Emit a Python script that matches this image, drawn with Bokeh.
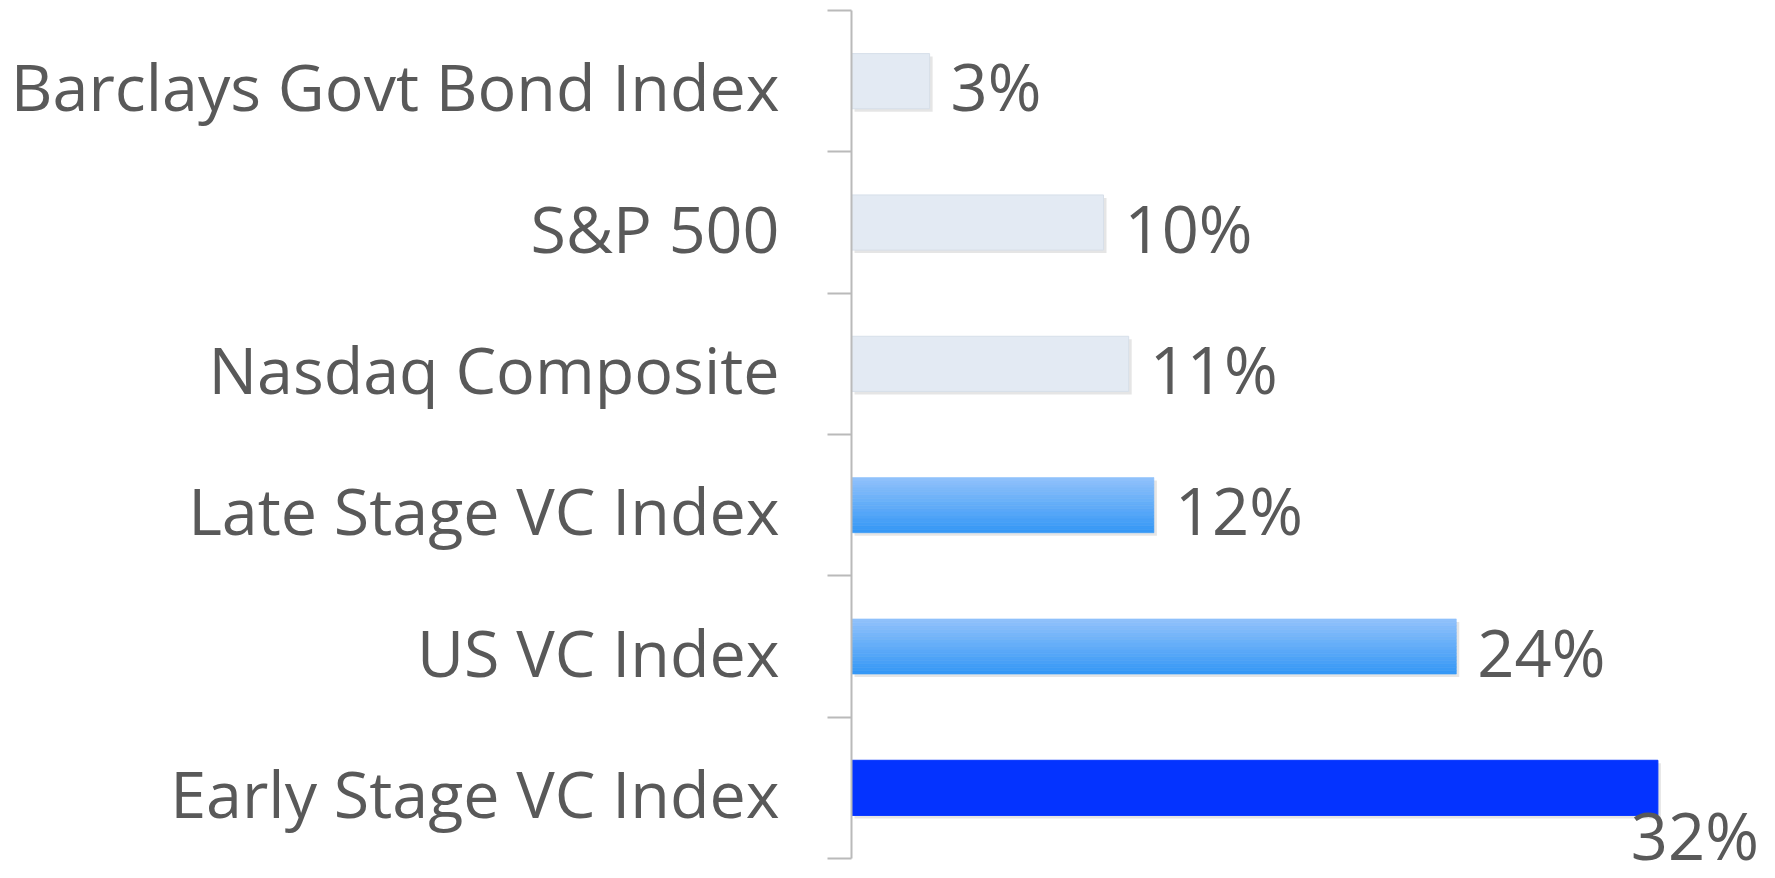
from bokeh.plotting import figure
from bokeh.models import Range1d, LinearAxis, FixedTicker, ColumnDataSource, Grid
from bokeh.embed import file_html
from bokeh.resources import INLINE
from bokeh.core.properties import value

# ---------------- data ----------------
categories = ["Barclays Govt Bond Index", "S&P 500", "Nasdaq Composite",
              "Late Stage VC Index", "US VC Index", "Early Stage VC Index"]
returns = [3.1, 10.0, 11.0, 12.0, 24.0, 32.0]
value_labels = ["3%", "10%", "11%", "12%", "24%", "32%"]
bar_styles = ["light", "light", "light", "gradient", "gradient", "solid"]

# ---------------- layout / style ----------------
W, H = 1775, 878
FRAME_LEFT = 851
BORDER_TOP = 10
AXIS_BOTTOM_GAP = 20          # px between last category boundary and canvas bottom
FRAME_W = W - FRAME_LEFT
FRAME_H = H - BORDER_TOP
N = len(categories)
PX_Y = (FRAME_H - AXIS_BOTTOM_GAP) / N
Y_PAD = AXIS_BOTTOM_GAP / PX_Y
PX_PER_PCT = 25.2
X_END = FRAME_W / PX_PER_PCT
PX_X = PX_PER_PCT
BAR_H = 0.39

FONT = "Open Sans"
TEXT_COLOR = "#595959"
AXIS_COLOR = "#bababa"
LIGHT = "#e3eaf3"
GRAD_TOP = (0x92, 0xc2, 0xfb)
GRAD_BOT = (0x33, 0x97, 0xf6)
SOLID = "#0433ff"

centers = [N - i - 0.5 for i in range(N)]

p = figure(width=W, height=H, output_backend="svg", toolbar_location=None,
           x_range=Range1d(0, X_END), y_range=Range1d(-Y_PAD, N),
           x_axis_location=None, y_axis_location=None,
           min_border_left=FRAME_LEFT, min_border_right=0,
           min_border_top=BORDER_TOP, min_border_bottom=0)
p.outline_line_color = None
p.background_fill_color = "white"
p.border_fill_color = "white"
for r in list(p.center):
    if isinstance(r, Grid):
        r.visible = False

# shifted ranges for drop shadow and label placement
dx = 3 / PX_X
dy = 3 / PX_Y
p.extra_x_ranges["shadow"] = Range1d(-dx, X_END - dx)
p.extra_y_ranges["shadow"] = Range1d(-Y_PAD + dy, N + dy)
lab_shift = 5 / PX_Y
p.extra_y_ranges["labels"] = Range1d(-Y_PAD + lab_shift, N + lab_shift)

# shadows
p.hbar(y=centers, right=returns, left=0, height=BAR_H,
       x_range_name="shadow", y_range_name="shadow",
       fill_color="#000000", fill_alpha=0.10, line_color=None)

# bars
for i, (c, v, st) in enumerate(zip(centers, returns, bar_styles)):
    if st == "light":
        p.hbar(y=[c], right=[v], left=0, height=BAR_H,
               fill_color=LIGHT, line_color="#d7dfe9", line_width=1)
    elif st == "solid":
        p.hbar(y=[c], right=[v], left=0, height=BAR_H,
               fill_color=SOLID, line_color=SOLID, line_width=1)
    else:
        steps = 16
        ys, hs, cols = [], [], []
        for j in range(steps):
            t = (j + 0.5) / steps
            col = "#%02x%02x%02x" % tuple(int(round(a + (b - a) * t)) for a, b in zip(GRAD_TOP, GRAD_BOT))
            ys.append(c + BAR_H / 2 - (j + 0.5) * BAR_H / steps)
            hs.append(BAR_H / steps)
            cols.append(col)
        p.hbar(y=ys, right=[v] * steps, left=0, height=hs,
               fill_color=cols, line_color=cols, line_width=0.6)

# value labels
max_v = max(returns)
lab_src = ColumnDataSource(dict(
    x=returns, y=centers, text=value_labels,
    align=["left" if v < max_v else "center" for v in returns],
    xo=[21 if v < max_v else 37 for v in returns],
    yo=[5 if v < max_v else 47 for v in returns],
))
tr = p.text(x="x", y="y", text="text", source=lab_src,
            text_align="align", text_baseline="middle",
            x_offset="xo", y_offset="yo",
            text_font=value(FONT), text_font_size="65px", text_color=TEXT_COLOR)
tr.level = "overlay"

# tick axis (boundaries)
tick_axis = LinearAxis(ticker=FixedTicker(ticks=list(range(N + 1))),
                       bounds=(0, N),
                       major_label_overrides={i: "" for i in range(N + 1)},
                       major_label_text_font_size="1px",
                       major_label_standoff=0,
                       axis_line_color=AXIS_COLOR, axis_line_width=2,
                       major_tick_line_color=AXIS_COLOR, major_tick_line_width=2,
                       major_tick_out=24, major_tick_in=0,
                       minor_tick_out=0, minor_tick_in=0,
                       minor_tick_line_color=None)
p.add_layout(tick_axis, "left")

# category label axis
label_axis = LinearAxis(y_range_name="labels",
                        ticker=FixedTicker(ticks=centers),
                        major_label_overrides={c: cat for c, cat in zip(centers, categories)},
                        axis_line_color=None, major_tick_line_color=None,
                        minor_tick_line_color=None,
                        major_tick_out=0, major_tick_in=0,
                        minor_tick_out=0, minor_tick_in=0,
                        major_label_standoff=48,
                        major_label_text_font=FONT,
                        major_label_text_font_size="64.6px",
                        major_label_text_color=TEXT_COLOR)
p.add_layout(label_axis, "left")

open("out.html", "w").write(file_html(p, INLINE))
